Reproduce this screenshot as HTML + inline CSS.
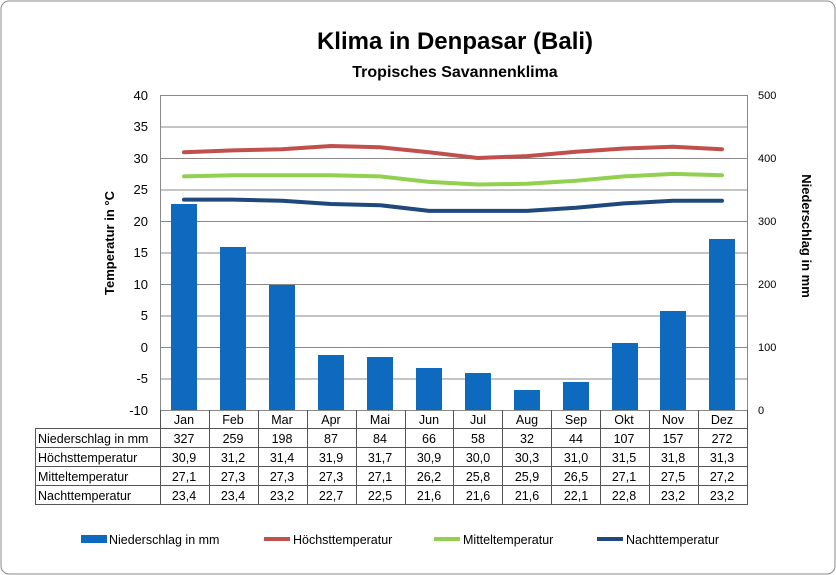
<!DOCTYPE html>
<html><head><meta charset="utf-8"><style>
body{margin:0;background:#fff;}
svg{display:block;font-family:"Liberation Sans",Arial,sans-serif;}
</style></head><body>
<svg width="836" height="575" viewBox="0 0 836 575">
<rect x="1" y="1" width="834" height="573" rx="8" fill="#fff" stroke="#888" stroke-width="1"/>
<text x="455" y="49" font-size="24" font-weight="bold" text-anchor="middle">Klima in Denpasar (Bali)</text>
<text x="455" y="77" font-size="16" font-weight="bold" text-anchor="middle">Tropisches Savannenklima</text>
<g stroke="#888" stroke-width="1">
<line x1="160" y1="95.5" x2="747" y2="95.5"/>
<line x1="160" y1="127" x2="747" y2="127"/>
<line x1="160" y1="158.5" x2="747" y2="158.5"/>
<line x1="160" y1="190" x2="747" y2="190"/>
<line x1="160" y1="221.5" x2="747" y2="221.5"/>
<line x1="160" y1="253" x2="747" y2="253"/>
<line x1="160" y1="284.5" x2="747" y2="284.5"/>
<line x1="160" y1="316" x2="747" y2="316"/>
<line x1="160" y1="347.5" x2="747" y2="347.5"/>
<line x1="160" y1="379" x2="747" y2="379"/>
<line x1="160" y1="410.5" x2="747" y2="410.5"/>
<line x1="160.5" y1="95" x2="160.5" y2="410"/>
<line x1="747.5" y1="95" x2="747.5" y2="410"/>
</g>
<g font-size="13" text-anchor="end">
<text x="148" y="100">40</text><text x="148" y="131">35</text><text x="148" y="163">30</text><text x="148" y="194">25</text><text x="148" y="226">20</text><text x="148" y="257">15</text><text x="148" y="289">10</text><text x="148" y="320">5</text><text x="148" y="352">0</text><text x="148" y="383">-5</text><text x="148" y="415">-10</text>
</g>
<g font-size="11" text-anchor="start">
<text x="758" y="99">500</text><text x="758" y="162">400</text><text x="758" y="225">300</text><text x="758" y="288">200</text><text x="758" y="351">100</text><text x="758" y="414">0</text>
</g>
<text transform="translate(114,243) rotate(-90)" font-size="13" font-weight="bold" text-anchor="middle">Temperatur in °C</text>
<text transform="translate(802,236) rotate(90)" font-size="13" font-weight="bold" text-anchor="middle">Niederschlag in mm</text>
<g fill="#0d6abf">
<rect x="171" y="204" width="26" height="206"/>
<rect x="220" y="247" width="26" height="163"/>
<rect x="269" y="285" width="26" height="125"/>
<rect x="318" y="355" width="26" height="55"/>
<rect x="367" y="357" width="26" height="53"/>
<rect x="416" y="368" width="26" height="42"/>
<rect x="465" y="373" width="26" height="37"/>
<rect x="514" y="390" width="26" height="20"/>
<rect x="563" y="382" width="26" height="28"/>
<rect x="612" y="343" width="26" height="67"/>
<rect x="660" y="311" width="26" height="99"/>
<rect x="709" y="239" width="26" height="171"/>
</g>
<g fill="none" stroke-width="4" stroke-linejoin="round" stroke-linecap="round">
<polyline stroke="#c0504d" points="184,152.3 233,150.4 282,149.2 331,146 380,147.3 429,152.3 478,158 527,156.1 576,151.7 624,148.5 673,146.7 722,149.2"/>
<polyline stroke="#92d050" points="184,176.4 233,175.2 282,175.2 331,175.2 380,176.4 429,181.9 478,184.5 527,183.8 576,180.7 624,176.4 673,173.9 722,175.2"/>
<polyline stroke="#1f497d" points="184,199.6 233,199.6 282,200.8 331,204 380,205.2 429,210.9 478,210.9 527,210.9 576,207.7 624,203.4 673,200.8 722,200.8"/>
</g>
<g stroke="#555" stroke-width="1" fill="none">
<line x1="160" y1="428.5" x2="747" y2="428.5"/>
<line x1="35" y1="447.5" x2="747" y2="447.5"/>
<line x1="35" y1="466.5" x2="747" y2="466.5"/>
<line x1="35" y1="485.5" x2="747" y2="485.5"/>
<line x1="35" y1="504.5" x2="747" y2="504.5"/>
<line x1="35.5" y1="428" x2="35.5" y2="505"/>
<line x1="35" y1="428.5" x2="160" y2="428.5"/>
<line x1="160.5" y1="410" x2="160.5" y2="505"/>
<line x1="209.5" y1="410" x2="209.5" y2="505"/>
<line x1="258.5" y1="410" x2="258.5" y2="505"/>
<line x1="307.5" y1="410" x2="307.5" y2="505"/>
<line x1="356.5" y1="410" x2="356.5" y2="505"/>
<line x1="405.5" y1="410" x2="405.5" y2="505"/>
<line x1="453.5" y1="410" x2="453.5" y2="505"/>
<line x1="502.5" y1="410" x2="502.5" y2="505"/>
<line x1="551.5" y1="410" x2="551.5" y2="505"/>
<line x1="600.5" y1="410" x2="600.5" y2="505"/>
<line x1="649.5" y1="410" x2="649.5" y2="505"/>
<line x1="698.5" y1="410" x2="698.5" y2="505"/>
<line x1="747.5" y1="410" x2="747.5" y2="505"/>
</g>
<g font-size="12.5" text-anchor="middle">
<text x="184" y="424">Jan</text><text x="233" y="424">Feb</text><text x="282" y="424">Mar</text><text x="331" y="424">Apr</text><text x="380" y="424">Mai</text><text x="429" y="424">Jun</text><text x="478" y="424">Jul</text><text x="527" y="424">Aug</text><text x="576" y="424">Sep</text><text x="624" y="424">Okt</text><text x="673" y="424">Nov</text><text x="722" y="424">Dez</text>
<text x="184" y="443">327</text><text x="233" y="443">259</text><text x="282" y="443">198</text><text x="331" y="443">87</text><text x="380" y="443">84</text><text x="429" y="443">66</text><text x="478" y="443">58</text><text x="527" y="443">32</text><text x="576" y="443">44</text><text x="624" y="443">107</text><text x="673" y="443">157</text><text x="722" y="443">272</text>
<text x="184" y="462">30,9</text><text x="233" y="462">31,2</text><text x="282" y="462">31,4</text><text x="331" y="462">31,9</text><text x="380" y="462">31,7</text><text x="429" y="462">30,9</text><text x="478" y="462">30,0</text><text x="527" y="462">30,3</text><text x="576" y="462">31,0</text><text x="624" y="462">31,5</text><text x="673" y="462">31,8</text><text x="722" y="462">31,3</text>
<text x="184" y="481">27,1</text><text x="233" y="481">27,3</text><text x="282" y="481">27,3</text><text x="331" y="481">27,3</text><text x="380" y="481">27,1</text><text x="429" y="481">26,2</text><text x="478" y="481">25,8</text><text x="527" y="481">25,9</text><text x="576" y="481">26,5</text><text x="624" y="481">27,1</text><text x="673" y="481">27,5</text><text x="722" y="481">27,2</text>
<text x="184" y="500">23,4</text><text x="233" y="500">23,4</text><text x="282" y="500">23,2</text><text x="331" y="500">22,7</text><text x="380" y="500">22,5</text><text x="429" y="500">21,6</text><text x="478" y="500">21,6</text><text x="527" y="500">21,6</text><text x="576" y="500">22,1</text><text x="624" y="500">22,8</text><text x="673" y="500">23,2</text><text x="722" y="500">23,2</text>
</g>
<g font-size="12.5">
<text x="38" y="443">Niederschlag in mm</text>
<text x="38" y="462">Höchsttemperatur</text>
<text x="38" y="481">Mitteltemperatur</text>
<text x="38" y="500">Nachttemperatur</text>
</g>
<rect x="81" y="535" width="26" height="8" fill="#0d6abf"/>
<text x="109" y="544" font-size="12.5">Niederschlag in mm</text>
<line x1="264" y1="539" x2="290" y2="539" stroke="#c0504d" stroke-width="4"/>
<text x="293" y="544" font-size="12.5">Höchsttemperatur</text>
<line x1="434" y1="539" x2="460" y2="539" stroke="#92d050" stroke-width="4"/>
<text x="463" y="544" font-size="12.5">Mitteltemperatur</text>
<line x1="597" y1="539" x2="623" y2="539" stroke="#1f497d" stroke-width="4"/>
<text x="626" y="544" font-size="12.5">Nachttemperatur</text>
</svg>
</body></html>
